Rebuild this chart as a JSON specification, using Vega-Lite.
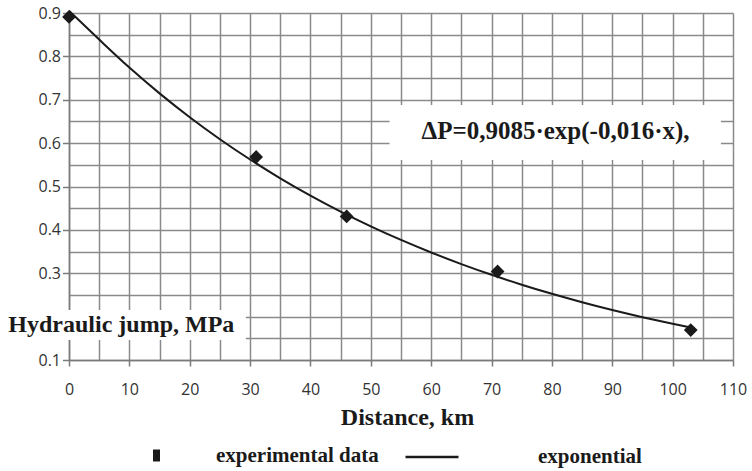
{
  "$schema": "https://vega.github.io/schema/vega-lite/v6.json",
  "width": 664,
  "height": 347,
  "autosize": {"type": "none"},
  "padding": {"left": 69, "top": 13, "right": 19, "bottom": 111},
  "background": "white",
  "config": {
    "view": {"stroke": null},
    "axis": {
      "gridColor": "#8a8a8a",
      "gridWidth": 1.5,
      "domainColor": "#7a7a7a",
      "domainWidth": 1.5,
      "tickColor": "#7a7a7a",
      "tickWidth": 1.5,
      "labelFont": "Open Sans",
      "labelFontSize": 16,
      "labelColor": "#333333",
      "labelOverlap": false,
      "labelFlush": false,
      "labelBound": false
    },
    "legend": {"labelLimit": 0}
  },
  "resolve": {"axis": {"x": "independent", "y": "independent"}},
  "layer": [
    {
      "data": {"values": [
        {"x": 0, "dp": 0.905, "series": "exponential"},
        {"x": 5, "dp": 0.8387, "series": "exponential"},
        {"x": 10, "dp": 0.7742, "series": "exponential"},
        {"x": 15, "dp": 0.7147, "series": "exponential"},
        {"x": 20, "dp": 0.6597, "series": "exponential"},
        {"x": 25, "dp": 0.609, "series": "exponential"},
        {"x": 30, "dp": 0.5622, "series": "exponential"},
        {"x": 35, "dp": 0.5189, "series": "exponential"},
        {"x": 40, "dp": 0.479, "series": "exponential"},
        {"x": 45, "dp": 0.4422, "series": "exponential"},
        {"x": 50, "dp": 0.4082, "series": "exponential"},
        {"x": 55, "dp": 0.3768, "series": "exponential"},
        {"x": 60, "dp": 0.3479, "series": "exponential"},
        {"x": 65, "dp": 0.3211, "series": "exponential"},
        {"x": 70, "dp": 0.2964, "series": "exponential"},
        {"x": 75, "dp": 0.2736, "series": "exponential"},
        {"x": 80, "dp": 0.2526, "series": "exponential"},
        {"x": 85, "dp": 0.2332, "series": "exponential"},
        {"x": 90, "dp": 0.2152, "series": "exponential"},
        {"x": 95, "dp": 0.1987, "series": "exponential"},
        {"x": 100, "dp": 0.1834, "series": "exponential"},
        {"x": 103, "dp": 0.1748, "series": "exponential"}
      ]},
      "mark": {"type": "line", "strokeWidth": 2, "interpolate": "monotone"},
      "encoding": {
        "x": {
          "field": "x", "type": "quantitative",
          "scale": {"domain": [0, 110], "nice": false, "zero": false},
          "axis": {
            "orient": "top",
            "grid": true,
            "values": [0,5,10,15,20,25,30,35,40,45,50,55,60,65,70,75,80,85,90,95,100,105,110],
            "ticks": false, "labels": false, "domain": false, "title": null
          }
        },
        "y": {
          "field": "dp", "type": "quantitative",
          "scale": {"domain": [0.1, 0.9], "nice": false, "zero": false},
          "axis": {
            "orient": "right",
            "grid": true,
            "values": [0.1,0.15,0.2,0.25,0.3,0.35,0.4,0.45,0.5,0.55,0.6,0.65,0.7,0.75,0.8,0.85,0.9],
            "ticks": false, "labels": false, "domain": false, "title": null
          }
        },
        "stroke": {
          "field": "series", "type": "nominal",
          "scale": {"domain": ["exponential"], "range": ["#1a1a1a"]},
          "legend": {
            "orient": "none", "legendX": 335, "legendY": 416,
            "title": null, "padding": 0,
            "symbolType": "stroke", "symbolSize": 2809, "symbolStrokeWidth": 2.5,
            "symbolStrokeColor": "#333333",
            "labelOffset": 78, "labelLimit": 0,
            "labelFont": "Liberation Serif", "labelFontWeight": "bold",
            "labelFontSize": 21, "labelColor": "#1a1a1a"
          }
        }
      }
    },
    {
      "data": {"values": [
        {"x": 0, "dp": 0.891, "series": "experimental data"},
        {"x": 31, "dp": 0.568, "series": "experimental data"},
        {"x": 46, "dp": 0.431, "series": "experimental data"},
        {"x": 71, "dp": 0.304, "series": "experimental data"},
        {"x": 103, "dp": 0.169, "series": "experimental data"}
      ]},
      "mark": {"type": "point", "shape": "diamond", "filled": true, "size": 190, "opacity": 1},
      "encoding": {
        "x": {
          "field": "x", "type": "quantitative",
          "axis": {
            "orient": "bottom",
            "grid": false,
            "values": [0,10,20,30,40,50,60,70,80,90,100,110],
            "tickSize": 6,
            "labelPadding": 15,
            "title": "Distance, km",
            "titleFont": "Liberation Serif",
            "titleFontWeight": "bold",
            "titleFontSize": 24,
            "titleColor": "#1a1a1a",
            "titleX": 338,
            "titleY": 64,
            "titleAlign": "center",
            "titleBaseline": "alphabetic"
          }
        },
        "y": {
          "field": "dp", "type": "quantitative",
          "axis": {
            "orient": "left",
            "grid": false,
            "values": [0.1,0.2,0.3,0.4,0.5,0.6,0.7,0.8,0.9],
            "format": ".1f",
            "tickSize": 6.5,
            "labelPadding": 2,
            "title": null
          }
        },
        "fill": {
          "field": "series", "type": "nominal",
          "scale": {"domain": ["experimental data"], "range": ["#1a1a1a"]},
          "legend": {
            "orient": "none", "legendX": 77, "legendY": 432,
            "title": null, "padding": 0,
            "symbolType": "M-0.58,-1L0.58,-1L0.58,1L-0.58,1Z", "symbolSize": 144,
            "symbolOpacity": 1,
            "labelOffset": 49, "labelLimit": 0,
            "labelFont": "Liberation Serif", "labelFontWeight": "bold",
            "labelFontSize": 21, "labelColor": "#1a1a1a"
          }
        }
      }
    },
    {
      "data": {"values": [
        {"x1": -12, "x2": 29.3, "y1": 0.2153, "y2": 0.146},
        {"x1": 53.1, "x2": 108.0, "y1": 0.688, "y2": 0.561}
      ]},
      "mark": {"type": "rect", "fill": "white", "stroke": null},
      "encoding": {
        "x": {"field": "x1", "type": "quantitative", "axis": null},
        "x2": {"field": "x2"},
        "y": {"field": "y1", "type": "quantitative", "axis": null},
        "y2": {"field": "y2"}
      }
    },
    {
      "data": {"values": [
        {"x": -10.05, "dp": 0.1645, "label": "Hydraulic jump, MPa"}
      ]},
      "mark": {"type": "text", "align": "left", "baseline": "alphabetic", "font": "Liberation Serif", "fontWeight": "bold", "fontSize": 24, "color": "#1a1a1a"},
      "encoding": {
        "x": {"field": "x", "type": "quantitative", "axis": null},
        "y": {"field": "dp", "type": "quantitative", "axis": null},
        "text": {"field": "label"}
      }
    },
    {
      "data": {"values": [
        {"x": 80.6, "dp": 0.61, "label": "ΔP=0,9085·exp(-0,016·x),"}
      ]},
      "mark": {"type": "text", "align": "center", "baseline": "alphabetic", "font": "Liberation Serif", "fontWeight": "bold", "fontSize": 25, "color": "#1a1a1a"},
      "encoding": {
        "x": {"field": "x", "type": "quantitative", "axis": null},
        "y": {"field": "dp", "type": "quantitative", "axis": null},
        "text": {"field": "label"}
      }
    }
  ]
}
